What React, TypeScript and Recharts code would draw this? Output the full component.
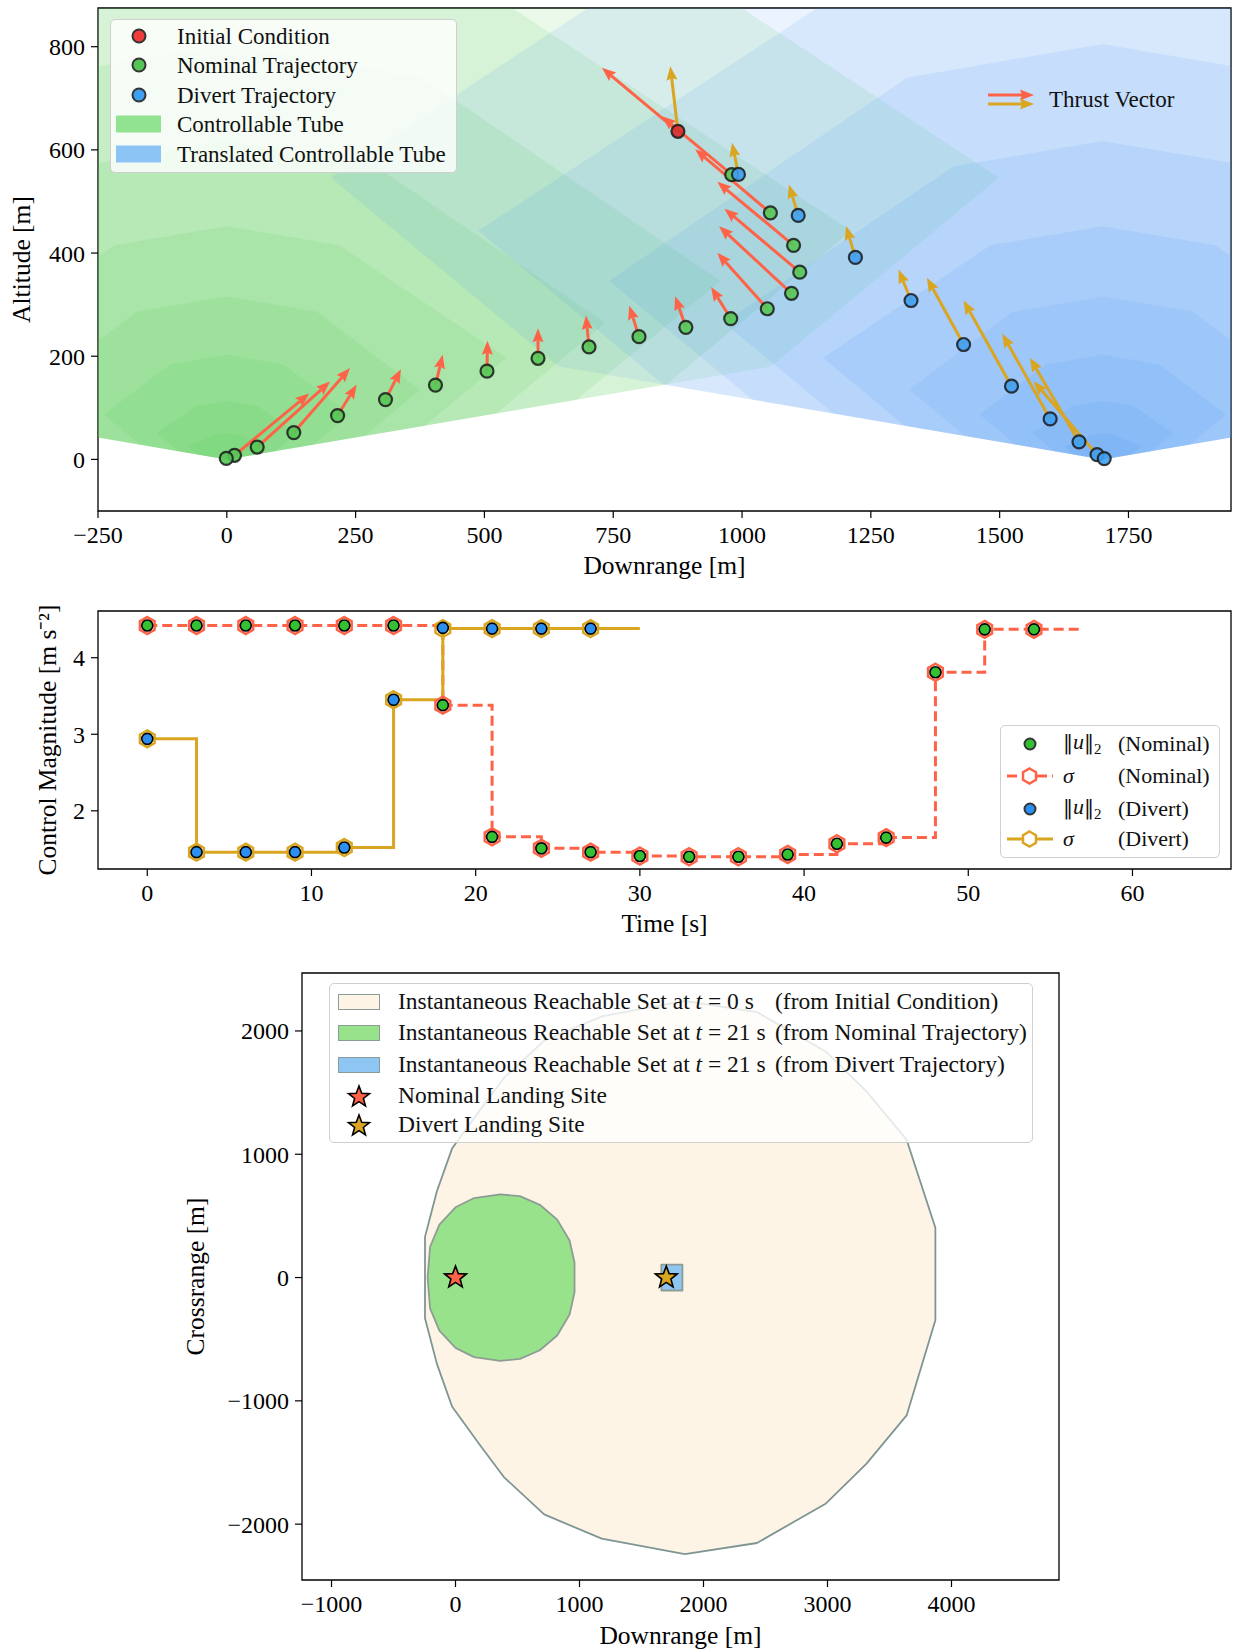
import React from 'react';
import { ComposedChart, Scatter, Line, XAxis, YAxis, ReferenceArea, Legend } from 'recharts';

const FONT = '"Liberation Serif", "Times New Roman", serif';
const TOMATO = '#ff6347';
const GOLD = '#daa520';
const GREEN_PT = '#55c655';
const BLUE_PT = '#3f9ff0';
const IC_RED = '#d62b2b';

// ---------- top panel: trajectories ----------
const downrangeTicks = [-250, 0, 250, 500, 750, 1000, 1250, 1500, 1750];
const altitudeTicks = [0, 200, 400, 600, 800];

const initialX = 875.6;
const initialAlt = 636;

const nominalX = [980, 1055, 1100, 1112, 1096, 1049, 978, 891, 800, 703, 604, 505, 405, 308, 215, 130, 59, 15, -1];
const nominalAlt = [552, 478, 415, 363, 322, 292, 273, 256, 238, 218, 196, 171, 144, 116, 85, 52, 24, 8, 2];
// tips of the thrust arrows (first one belongs to the initial condition)
const nominalTipX = [728, 844.5, 909, 952, 966, 955.5, 952, 940, 870, 781, 697, 604, 506, 419, 338, 252, 239, 200.5, 160];
const nominalTipAlt = [759, 665, 601, 538, 486, 452, 400.5, 334, 316.5, 298, 279, 254, 230, 203, 175, 144.5, 177, 151, 128];

const divertX = [993, 1109, 1220, 1328, 1430, 1523, 1598, 1654, 1689, 1703];
const divertAlt = [552.5, 473, 391.5, 308, 222.7, 142, 78.5, 34, 9.3, 1.6];
const divertTipX = [860.7, 980.5, 1091, 1201.8, 1303.8, 1358.8, 1430, 1505, 1558.7, 1566];
const divertTipAlt = [762, 614, 533, 452.3, 368, 352, 308, 243.4, 197, 151.6];

const nominalSite = 0;
const divertSite = 1700;

// controllable tube level sets, [downrange offset from site, altitude]
const tubeLevel1 = [[-75, 25], [-25, 47], [0, 51], [25, 47], [75, 25], [56, 9.5], [0, 0], [-56, 9.5]];
const tubeLevel2 = [[-136, 51], [-60, 103], [0, 113], [60, 103], [136, 51], [94, 16], [0, 0], [-94, 16]];
const tubeLevel3 = [[-239, 87], [-110, 184], [0, 203], [110, 184], [239, 87], [169, 29], [0, 0], [-169, 29]];
const tubeLevel4 = [[-375, 135], [-175, 286], [0, 316], [175, 286], [375, 135], [268, 46], [0, 0], [-268, 46]];
const tubeLevel5 = [[-543, 197], [-218, 415], [0, 452], [218, 415], [543, 197], [384, 65], [0, 0], [-384, 65]];
const tubeLevel6 = [[-735, 265], [-290, 568], [0, 617], [290, 568], [735, 265], [523, 89], [0, 0], [-523, 89]];
const tubeLevel7 = [[-958, 346], [-380, 740], [0, 805], [380, 740], [958, 346], [680, 116], [0, 0], [-680, 116]];
const tubeLevel8 = [[-1212, 443], [-470, 930], [0, 1010], [470, 930], [1212, 443], [853, 145], [0, 0], [-853, 145]];
const tubeLevel9 = [[-1498, 546], [-580, 1151], [0, 1250], [580, 1151], [1498, 546], [1056, 180], [0, 0], [-1056, 180]];
const tubeLevels = [tubeLevel9, tubeLevel8, tubeLevel7, tubeLevel6, tubeLevel5, tubeLevel4, tubeLevel3, tubeLevel2, tubeLevel1];

// ---------- middle panel: control magnitude ----------
const timeSteps = [0, 3, 6, 9, 12, 15, 18, 21, 24, 27, 30, 33, 36, 39, 42, 45, 48, 51, 54, 57];
const sigmaNominal = [4.42, 4.42, 4.42, 4.42, 4.42, 4.42, 3.38, 1.66, 1.51, 1.46, 1.41, 1.4, 1.4, 1.43, 1.57, 1.65, 3.81, 4.37, 4.37, 4.37];
const uNominal = [4.42, 4.42, 4.42, 4.42, 4.42, 4.42, 3.38, 1.66, 1.51, 1.46, 1.41, 1.4, 1.4, 1.43, 1.57, 1.65, 3.81, 4.37, 4.37];
const sigmaDivert = [2.94, 1.46, 1.46, 1.46, 1.52, 3.45, 4.38, 4.38, 4.38, 4.38, 4.38];
const uDivert = [2.94, 1.46, 1.46, 1.46, 1.52, 3.45, 4.39, 4.38, 4.38, 4.38];
const timeTicks = [0, 10, 20, 30, 40, 50, 60];
const controlTicks = [2, 3, 4];

// ---------- bottom panel: reachable sets ----------
const reachT0 = [[-246, 330], [-150, 700], [-28, 1046], [204, 1368], [390, 1618], [715, 1921], [1179, 2118], [1850, 2243], [2431, 2153], [2988, 1832], [3313, 1511], [3638, 1118], [3870, 404], [3870, -346], [3638, -1118], [3313, -1511], [2988, -1832], [2431, -2153], [1850, -2243], [1179, -2118], [715, -1921], [390, -1618], [204, -1368], [-28, -1046], [-150, -700], [-246, -330]];
const reachNominal21 = [[-225, 0], [-205, 250], [-130, 430], [0, 570], [150, 645], [360, 675], [520, 660], [680, 590], [820, 470], [920, 300], [960, 120], [960, -120], [920, -300], [820, -470], [680, -590], [520, -660], [360, -675], [150, -645], [0, -570], [-130, -430], [-205, -250]];
const reachDivert21 = [[1660, -105], [1830, -105], [1830, 105], [1660, 105]];
const crossTicksX = [-1000, 0, 1000, 2000, 3000, 4000];
const crossTicksY = [-2000, -1000, 0, 1000, 2000];

// ---------- helpers ----------
const fmt = (v: number) => String(v).replace('-', '\u2212');
const tickStyle = { fontSize: 24, fill: '#000', fontFamily: FONT };
const labelStyle = { fontSize: 25.5, fill: '#000', fontFamily: FONT };
const noShape = () => null;

const closed = (pts: number[][], shift = 0) => [...pts, pts[0]].map(([x, y]) => ({ x: x + shift, y }));

const polygonLine = (fill: string, opacity: number, stroke = 'none', sw = 0) => (p: any) => {
  const pts: { x: number; y: number }[] = p.points || [];
  if (!pts.length) return <g />;
  const d = pts.map((q, i) => `${i ? 'L' : 'M'}${q.x},${q.y}`).join('') + 'Z';
  return <path d={d} fill={fill} fillOpacity={opacity} stroke={stroke} strokeWidth={sw} strokeLinejoin="round" />;
};

const arrowHead = (ax: number, ay: number, bx: number, by: number, color: string, key: number | string) => {
  const dx = bx - ax, dy = by - ay;
  const len = Math.hypot(dx, dy) || 1;
  const ux = dx / len, uy = dy / len;
  const px = -uy, py = ux;
  const hl = 14, hw = 5.5, ha = 12;
  const baseX = bx - ux * hl, baseY = by - uy * hl;
  const neckX = bx - ux * ha, neckY = by - uy * ha;
  return (
    <g key={key}>
      <line x1={ax} y1={ay} x2={neckX} y2={neckY} stroke={color} strokeWidth={3} />
      <polygon points={`${bx},${by} ${baseX + px * hw},${baseY + py * hw} ${neckX},${neckY} ${baseX - px * hw},${baseY - py * hw}`} fill={color} />
    </g>
  );
};

const arrowLine = (color: string) => (p: any) => {
  const pts: { x: number; y: number }[] = p.points || [];
  const out = [];
  for (let i = 0; i + 1 < pts.length; i += 2) out.push(arrowHead(pts[i].x, pts[i].y, pts[i + 1].x, pts[i + 1].y, color, i));
  return <g>{out}</g>;
};

const dotShape = (fill: string, r = 6.5) => (p: any) => (
  <circle cx={p.cx} cy={p.cy} r={r} fill={fill} fillOpacity={0.9} stroke="#1a1a1a" strokeOpacity={0.85} strokeWidth={2.2} />
);

const hexPoints = (cx: number, cy: number, r: number) =>
  [0, 1, 2, 3, 4, 5].map((k) => {
    const a = (-90 + k * 60) * (Math.PI / 180);
    return `${cx + r * Math.cos(a)},${cy + r * Math.sin(a)}`;
  }).join(' ');

const starPoints = (cx: number, cy: number, R: number) =>
  Array.from({ length: 10 }, (_, k) => {
    const r = k % 2 ? R * 0.42 : R;
    const a = (-90 + k * 36) * (Math.PI / 180);
    return `${cx + r * Math.cos(a)},${cy + r * Math.sin(a)}`;
  }).join(' ');

const starShape = (fill: string) => (p: any) => (
  <polygon points={starPoints(p.cx, p.cy, 11.5)} fill={fill} stroke="#000" strokeWidth={1.6} strokeLinejoin="miter" />
);

const row = (top: number, left: number, content: React.ReactNode, key?: string) => (
  <div key={key} style={{ position: 'absolute', top, left, transform: 'translateY(-50%)', lineHeight: 1, whiteSpace: 'pre' }}>{content}</div>
);

// ---------- data tables ----------
const thrustPairs = (tailX: number[], tailY: number[], tipX: number[], tipY: number[]) =>
  tipX.flatMap((tx, i) => [{ x: tailX[i], y: tailY[i] }, { x: tx, y: tipY[i] }]);

const nominalTailX = [initialX, ...nominalX];
const nominalTailAlt = [initialAlt, ...nominalAlt];
const divertTailX = [initialX, ...divertX];
const divertTailAlt = [initialAlt, ...divertAlt];

const nominalArrows = thrustPairs(nominalTailX, nominalTailAlt, nominalTipX, nominalTipAlt);
const divertArrows = thrustPairs(divertTailX, divertTailAlt, divertTipX, divertTipAlt);
const nominalPoints = nominalX.map((x, i) => ({ x, y: nominalAlt[i] }));
const divertPoints = divertX.map((x, i) => ({ x, y: divertAlt[i] }));

const controlRows = timeSteps.map((t, i) => ({
  t,
  sN: sigmaNominal[i],
  uN: i < uNominal.length ? uNominal[i] : undefined,
  sD: i < sigmaDivert.length ? sigmaDivert[i] : undefined,
  uD: i < uDivert.length ? uDivert[i] : undefined,
}));

// ---------- overlays (legends) ----------
const LegendDot = ({ fill, r = 6.5 }: { fill: string; r?: number }) => (
  <svg width={20} height={20} style={{ display: 'block' }}>
    <circle cx={10} cy={10} r={r} fill={fill} stroke="#333" strokeWidth={2} />
  </svg>
);

const TrajectoryOverlay = () => (
  <div style={{ position: 'relative', width: 1235, height: 590, fontFamily: FONT, fontSize: 23, color: '#111' }}>
    <div style={{ position: 'absolute', left: 110, top: 19, width: 347, height: 154, background: 'rgba(255,255,255,0.82)', border: '1.5px solid #cfcfcf', borderRadius: 5, boxSizing: 'border-box' }}>
      {row(16, 18, <LegendDot fill="#ee3b3b" />)}
      {row(45, 18, <LegendDot fill={GREEN_PT} />)}
      {row(75, 18, <LegendDot fill={BLUE_PT} />)}
      {row(104, 5, <div style={{ width: 45, height: 17, background: '#91e291' }} />)}
      {row(134, 5, <div style={{ width: 45, height: 17, background: '#8bc4f5' }} />)}
      {row(16, 66, 'Initial Condition')}
      {row(45, 66, 'Nominal Trajectory')}
      {row(75, 66, 'Divert Trajectory')}
      {row(104, 66, 'Controllable Tube')}
      {row(134, 66, 'Translated Controllable Tube')}
    </div>
    <svg style={{ position: 'absolute', left: 980, top: 85 }} width={60} height={30}>
      {arrowHead(8, 10, 54, 10, TOMATO, 'a')}
      {arrowHead(8, 19, 54, 19, GOLD, 'b')}
    </svg>
    {row(99, 1049, 'Thrust Vector')}
  </div>
);

const Hex = ({ color, fill = 'none' }: { color: string; fill?: string }) => (
  <polygon points={hexPoints(22.5, 10, 7.5)} fill={fill} stroke={color} strokeWidth={2.5} />
);

const Norm = () => (
  <span><span style={{ fontFamily: '"DejaVu Serif", serif', fontSize: 20 }}>‖</span><i>u</i><span style={{ fontFamily: '"DejaVu Serif", serif', fontSize: 20 }}>‖</span><sub style={{ fontSize: 15 }}>2</sub></span>
);

const ControlOverlay = () => (
  <div style={{ position: 'relative', width: 1235, height: 350, fontFamily: FONT, fontSize: 22, color: '#111' }}>
    <div style={{ position: 'absolute', left: 1000, top: 135, width: 220, height: 133, background: 'rgba(255,255,255,0.85)', border: '1.5px solid #cfcfcf', borderRadius: 5, boxSizing: 'border-box' }}>
      {row(18, 19, <LegendDot fill="#33c033" r={5.5} />)}
      {row(50, 6, <svg width={46} height={20} style={{ display: 'block' }}><line x1={0} y1={10} x2={46} y2={10} stroke={TOMATO} strokeWidth={3} strokeDasharray="10 5" /><Hex color={TOMATO} fill="#fff" /></svg>)}
      {row(83, 19, <LegendDot fill="#2a8ff0" r={5.5} />)}
      {row(113, 6, <svg width={46} height={20} style={{ display: 'block' }}><line x1={0} y1={10} x2={46} y2={10} stroke={GOLD} strokeWidth={3} /><Hex color={GOLD} fill="#fff" /></svg>)}
      {row(18, 62, <Norm />)}
      {row(50, 62, <i>σ</i>)}
      {row(83, 62, <Norm />)}
      {row(113, 62, <i>σ</i>)}
      {row(18, 117, '(Nominal)')}
      {row(50, 117, '(Nominal)')}
      {row(83, 117, '(Divert)')}
      {row(113, 117, '(Divert)')}
    </div>
  </div>
);

const LegendStar = ({ fill }: { fill: string }) => (
  <svg width={26} height={26} style={{ display: 'block' }}>
    <polygon points={starPoints(13, 14, 11)} fill={fill} stroke="#000" strokeWidth={1.6} />
  </svg>
);

const ReachOverlay = () => (
  <div style={{ position: 'relative', width: 1235, height: 712, fontFamily: FONT, fontSize: 23.5, color: '#111' }}>
    <div style={{ position: 'absolute', left: 329, top: 43, width: 704, height: 160, background: 'rgba(255,255,255,0.8)', border: '1.5px solid #cfcfcf', borderRadius: 5, boxSizing: 'border-box' }}>
      {row(18, 8, <div style={{ width: 42, height: 16, background: '#fdf4e6', border: '1.5px solid #8a9c9a', boxSizing: 'border-box' }} />)}
      {row(49, 8, <div style={{ width: 42, height: 16, background: '#98e28c', border: '1.5px solid #8a9c9a', boxSizing: 'border-box' }} />)}
      {row(81, 8, <div style={{ width: 42, height: 16, background: '#8fc5f2', border: '1.5px solid #8a9c9a', boxSizing: 'border-box' }} />)}
      {row(112, 16, <LegendStar fill={TOMATO} />)}
      {row(141, 16, <LegendStar fill={GOLD} />)}
      {row(18, 68, <span>Instantaneous Reachable Set at <i>t</i> = 0 s</span>)}
      {row(49, 68, <span>Instantaneous Reachable Set at <i>t</i> = 21 s</span>)}
      {row(81, 68, <span>Instantaneous Reachable Set at <i>t</i> = 21 s</span>)}
      {row(18, 445, '(from Initial Condition)')}
      {row(49, 445, '(from Nominal Trajectory)')}
      {row(81, 445, '(from Divert Trajectory)')}
      {row(112, 68, 'Nominal Landing Site')}
      {row(141, 68, 'Divert Landing Site')}
    </div>
  </div>
);

// ---------- panels ----------
function TrajectoryPanel() {
  return (
    <ComposedChart width={1235} height={590} margin={{ top: 8, right: 4, bottom: 0, left: 0 }}>
      <XAxis type="number" dataKey="x" domain={[-250, 1949]} allowDataOverflow ticks={downrangeTicks} interval={0}
        tickFormatter={fmt} tick={tickStyle} tickSize={7} tickMargin={8} axisLine={false}
        tickLine={{ stroke: '#000', strokeWidth: 1.2 }} height={79}
        label={{ value: 'Downrange [m]', position: 'insideBottom', offset: 16, ...labelStyle }} />
      <YAxis type="number" dataKey="y" domain={[-100, 875]} allowDataOverflow ticks={altitudeTicks} interval={0}
        tickFormatter={fmt} tick={tickStyle} tickSize={7} tickMargin={6} axisLine={false}
        tickLine={{ stroke: '#000', strokeWidth: 1.2 }} width={98}
        label={{ value: 'Altitude [m]', angle: -90, position: 'insideLeft', offset: 21, style: { textAnchor: 'middle' }, ...labelStyle }} />
      {tubeLevels.map((lvl, i) => (
        <Scatter key={`g${i}`} data={closed(lvl, nominalSite)} shape={noShape} line={polygonLine('#3cc83c', 0.11)} lineType="joint" isAnimationActive={false} />
      ))}
      {tubeLevels.map((lvl, i) => (
        <Scatter key={`b${i}`} data={closed(lvl, divertSite)} shape={noShape} line={polygonLine('#3c96f5', 0.11)} lineType="joint" isAnimationActive={false} />
      ))}
      <Scatter data={nominalArrows} shape={noShape} line={arrowLine(TOMATO)} lineType="joint" isAnimationActive={false} />
      <Scatter data={divertArrows} shape={noShape} line={arrowLine(GOLD)} lineType="joint" isAnimationActive={false} />
      <Scatter data={nominalPoints} shape={dotShape(GREEN_PT)} isAnimationActive={false} />
      <Scatter data={divertPoints} shape={dotShape(BLUE_PT)} isAnimationActive={false} />
      <Scatter data={[{ x: initialX, y: initialAlt }]} shape={dotShape(IC_RED)} isAnimationActive={false} />
      <ReferenceArea x1={-250} x2={1949} y1={-100} y2={875} fill="none" stroke="#000" strokeWidth={1.3} />
      <Legend verticalAlign="middle" align="center" layout="horizontal"
        wrapperStyle={{ left: 0, top: 0, width: 1235, height: 590 }} content={() => <TrajectoryOverlay />} />
    </ComposedChart>
  );
}

const hexDot = (color: string, key: 'uN' | 'uD') => (p: any) => {
  if (p.payload == null || p.payload[key] == null) return <g key={p.index} />;
  return <polygon key={p.index} points={hexPoints(p.cx, p.cy, 8.5)} fill="none" stroke={color} strokeWidth={2.5} />;
};

const circleDot = (fill: string) => (p: any) => {
  if (p.value == null || p.cy == null) return <g key={p.index} />;
  return <circle key={p.index} cx={p.cx} cy={p.cy} r={5.5} fill={fill} stroke="#000" strokeWidth={1.6} />;
};

function ControlPanel() {
  return (
    <ComposedChart width={1235} height={350} data={controlRows} margin={{ top: 21, right: 4, bottom: 0, left: 0 }}>
      <XAxis type="number" dataKey="t" domain={[-3, 66]} allowDataOverflow ticks={timeTicks} interval={0}
        tick={tickStyle} tickSize={7} tickMargin={8} axisLine={false}
        tickLine={{ stroke: '#000', strokeWidth: 1.2 }} height={71}
        label={{ value: 'Time [s]', position: 'insideBottom', offset: 8, ...labelStyle }} />
      <YAxis type="number" domain={[1.24, 4.61]} allowDataOverflow ticks={controlTicks} interval={0}
        tick={tickStyle} tickSize={7} tickMargin={6} axisLine={false}
        tickLine={{ stroke: '#000', strokeWidth: 1.2 }} width={98}
        label={{ value: 'Control Magnitude [m s\u207B\u00B2]', angle: -90, position: 'insideLeft', offset: 47, style: { textAnchor: 'middle' }, ...labelStyle }} />
      <Line dataKey="sN" type="stepAfter" stroke={TOMATO} strokeWidth={3} strokeDasharray="10 5" dot={hexDot(TOMATO, 'uN')} activeDot={false} isAnimationActive={false} />
      <Line dataKey="uN" stroke="none" dot={circleDot('#33c033')} activeDot={false} isAnimationActive={false} />
      <Line dataKey="sD" type="stepAfter" stroke={GOLD} strokeWidth={3} dot={hexDot(GOLD, 'uD')} activeDot={false} isAnimationActive={false} />
      <Line dataKey="uD" stroke="none" dot={circleDot('#2a8ff0')} activeDot={false} isAnimationActive={false} />
      <ReferenceArea x1={-3} x2={66} y1={1.24} y2={4.61} fill="none" stroke="#000" strokeWidth={1.3} />
      <Legend verticalAlign="middle" align="center" layout="horizontal"
        wrapperStyle={{ left: 0, top: 0, width: 1235, height: 350 }} content={() => <ControlOverlay />} />
    </ComposedChart>
  );
}

function ReachablePanel() {
  return (
    <ComposedChart width={1235} height={712} margin={{ top: 33, right: 176, bottom: 0, left: 0 }}>
      <XAxis type="number" dataKey="x" domain={[-1238, 4867]} allowDataOverflow ticks={crossTicksX} interval={0}
        tickFormatter={fmt} tick={tickStyle} tickSize={7} tickMargin={8} axisLine={false}
        tickLine={{ stroke: '#000', strokeWidth: 1.2 }} height={72}
        label={{ value: 'Downrange [m]', position: 'insideBottom', offset: 8, ...labelStyle }} />
      <YAxis type="number" dataKey="y" domain={[-2453, 2470]} allowDataOverflow ticks={crossTicksY} interval={0}
        tickFormatter={fmt} tick={tickStyle} tickSize={7} tickMargin={6} axisLine={false}
        tickLine={{ stroke: '#000', strokeWidth: 1.2 }} width={302}
        label={{ value: 'Crossrange [m]', angle: -90, position: 'insideLeft', offset: 195, style: { textAnchor: 'middle' }, ...labelStyle }} />
      <Scatter data={closed(reachT0)} shape={noShape} line={polygonLine('#fdf4e6', 1, '#7f9593', 1.8)} lineType="joint" isAnimationActive={false} />
      <Scatter data={closed(reachNominal21)} shape={noShape} line={polygonLine('#98e28c', 1, '#8d9d95', 1.8)} lineType="joint" isAnimationActive={false} />
      <Scatter data={closed(reachDivert21)} shape={noShape} line={polygonLine('#8fc5f2', 1, '#8d9d95', 1.8)} lineType="joint" isAnimationActive={false} />
      <Scatter data={[{ x: nominalSite, y: 0 }]} shape={starShape(TOMATO)} isAnimationActive={false} />
      <Scatter data={[{ x: divertSite, y: 0 }]} shape={starShape(GOLD)} isAnimationActive={false} />
      <ReferenceArea x1={-1238} x2={4867} y1={-2453} y2={2470} fill="none" stroke="#000" strokeWidth={1.3} />
      <Legend verticalAlign="middle" align="center" layout="horizontal"
        wrapperStyle={{ left: 0, top: 0, width: 1235, height: 712 }} content={() => <ReachOverlay />} />
    </ComposedChart>
  );
}

export default function App() {
  return (
    <div style={{ position: 'absolute', left: 0, top: 0, width: 1235, height: 1652, background: '#fff', fontFamily: FONT }}>
      <div style={{ position: 'absolute', left: 0, top: 0 }}><TrajectoryPanel /></div>
      <div style={{ position: 'absolute', left: 0, top: 590 }}><ControlPanel /></div>
      <div style={{ position: 'absolute', left: 0, top: 940 }}><ReachablePanel /></div>
    </div>
  );
}
